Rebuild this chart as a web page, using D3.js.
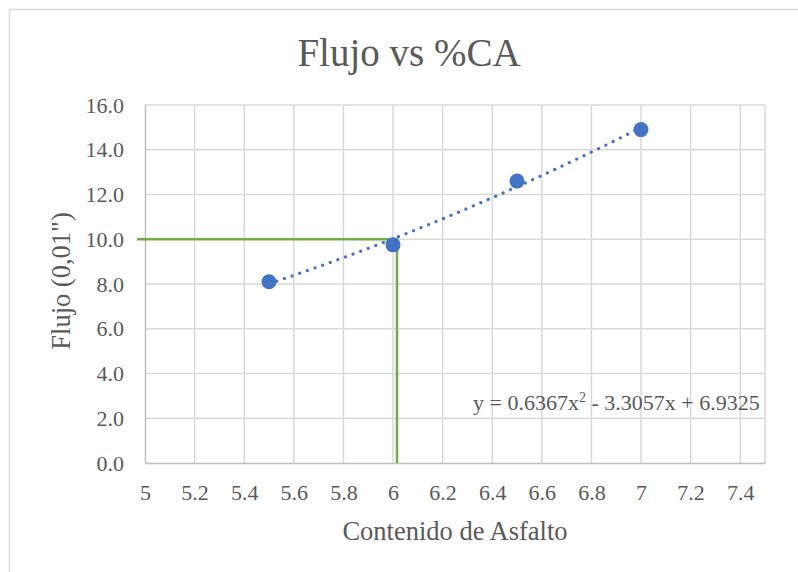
<!DOCTYPE html>
<html>
<head>
<meta charset="utf-8">
<script src="https://cdn.jsdelivr.net/npm/d3@7"></script>
<style>
  html, body { margin: 0; padding: 0; background: #fff; }
  svg { display: block; }
  text { font-family: "Liberation Serif", "Times New Roman", serif; fill: #595959; }
</style>
</head>
<body>
<svg id="chart" width="798" height="572"></svg>
<script>
// Asphalt content (%) and measured flow (0.01")
const asphaltContent = [5.5, 6.0, 6.5, 7.0];
const flowValues = [8.1, 9.75, 12.6, 14.9];

// Polynomial trendline coefficients: y = a x^2 + b x + c
const trendCoef = [0.6367, -3.3057, 6.9325];
const trendLabel = ["y = 0.6367x", "2", " - 3.3057x + 6.9325"];

// Design reading at 10.0 flow
const designFlow = 10.0;
const designContent = 6.016;

const xTicks = [5, 5.2, 5.4, 5.6, 5.8, 6, 6.2, 6.4, 6.6, 6.8, 7, 7.2, 7.4];
const yTicks = [0, 2, 4, 6, 8, 10, 12, 14, 16];

const title = "Flujo  vs %CA";
const xTitle = "Contenido de Asfalto";
const yTitle = "Flujo (0,01\")";

const svg = d3.select("#chart");
const W = 798, H = 572;
const plot = { left: 145, right: 765, top: 105, bottom: 463 };
const FONT = "Liberation Serif, Times New Roman, serif";

// chart frame
svg.append("rect")
  .attr("x", 9.5).attr("y", 9.5)
  .attr("width", W + 20).attr("height", H + 20)
  .attr("fill", "#fff").attr("stroke", "#d9d9d9").attr("stroke-width", 1.5);

const x = d3.scaleLinear().domain([5, 7.5]).range([plot.left, plot.right]);
const y = d3.scaleLinear().domain([0, 16]).range([plot.bottom, plot.top]);

// gridlines
const grid = svg.append("g");
grid.selectAll("line.v").data(xTicks.concat([7.5]).filter(d => d > 5)).join("line")
  .attr("x1", d => x(d)).attr("x2", d => x(d))
  .attr("y1", plot.top).attr("y2", plot.bottom)
  .attr("stroke", "#d9d9d9").attr("stroke-width", 1.5);
grid.selectAll("line.h").data(yTicks.filter(d => d > 0)).join("line")
  .attr("x1", plot.left).attr("x2", plot.right)
  .attr("y1", d => y(d)).attr("y2", d => y(d))
  .attr("stroke", "#d9d9d9").attr("stroke-width", 1.5);

// axes
const xAxis = svg.append("g")
  .attr("transform", `translate(0,${plot.bottom})`)
  .call(d3.axisBottom(x).tickValues(xTicks).tickSize(0).tickPadding(21).tickFormat(d3.format("")));
xAxis.select(".domain").attr("stroke", "#bfbfbf").attr("stroke-width", 1.5);
xAxis.selectAll("text").attr("font-size", 22).attr("fill", "#595959").attr("font-family", FONT);

const yAxis = svg.append("g")
  .attr("transform", `translate(${plot.left},0)`)
  .call(d3.axisLeft(y).tickValues(yTicks).tickSize(0).tickPadding(21).tickFormat(d3.format(".1f")));
yAxis.select(".domain").attr("stroke", "#bfbfbf").attr("stroke-width", 1.5);
yAxis.selectAll("text").attr("font-size", 22).attr("fill", "#595959").attr("font-family", FONT);

// design reading lines
svg.append("path")
  .attr("d", `M${plot.left - 8},${y(designFlow)} H${x(designContent)} V${plot.bottom}`)
  .attr("fill", "none").attr("stroke", "#70ad47").attr("stroke-width", 2.5);

// trendline
const trend = v => trendCoef[0] * v * v + trendCoef[1] * v + trendCoef[2];
const xs = d3.range(0, 61).map(i => asphaltContent[0] + i * (asphaltContent[3] - asphaltContent[0]) / 60);
svg.append("path")
  .datum(xs)
  .attr("d", d3.line().x(d => x(d)).y(d => y(trend(d))))
  .attr("fill", "none").attr("stroke", "#4472c4").attr("stroke-width", 3.2)
  .attr("stroke-linecap", "round").attr("stroke-dasharray", "0.1 8");

// markers
svg.append("g").selectAll("circle").data(asphaltContent).join("circle")
  .attr("cx", d => x(d)).attr("cy", (d, i) => y(flowValues[i]))
  .attr("r", 7.5).attr("fill", "#4472c4");

// equation
const eq = svg.append("text").attr("x", 473).attr("y", 410).attr("font-size", 22);
eq.append("tspan").text(trendLabel[0]);
eq.append("tspan").attr("dy", -8).attr("font-size", 14).text(trendLabel[1]);
eq.append("tspan").attr("dy", 8).text(trendLabel[2]);

// titles
svg.append("text").attr("x", 409).attr("y", 66).attr("text-anchor", "middle")
  .attr("font-size", 39).text(title);
svg.append("text").attr("x", 455).attr("y", 540).attr("text-anchor", "middle")
  .attr("font-size", 26.5).text(xTitle);
svg.append("text").attr("transform", `translate(70,281) rotate(-90)`)
  .attr("text-anchor", "middle").attr("font-size", 26.5).text(yTitle);
</script>
</body>
</html>
